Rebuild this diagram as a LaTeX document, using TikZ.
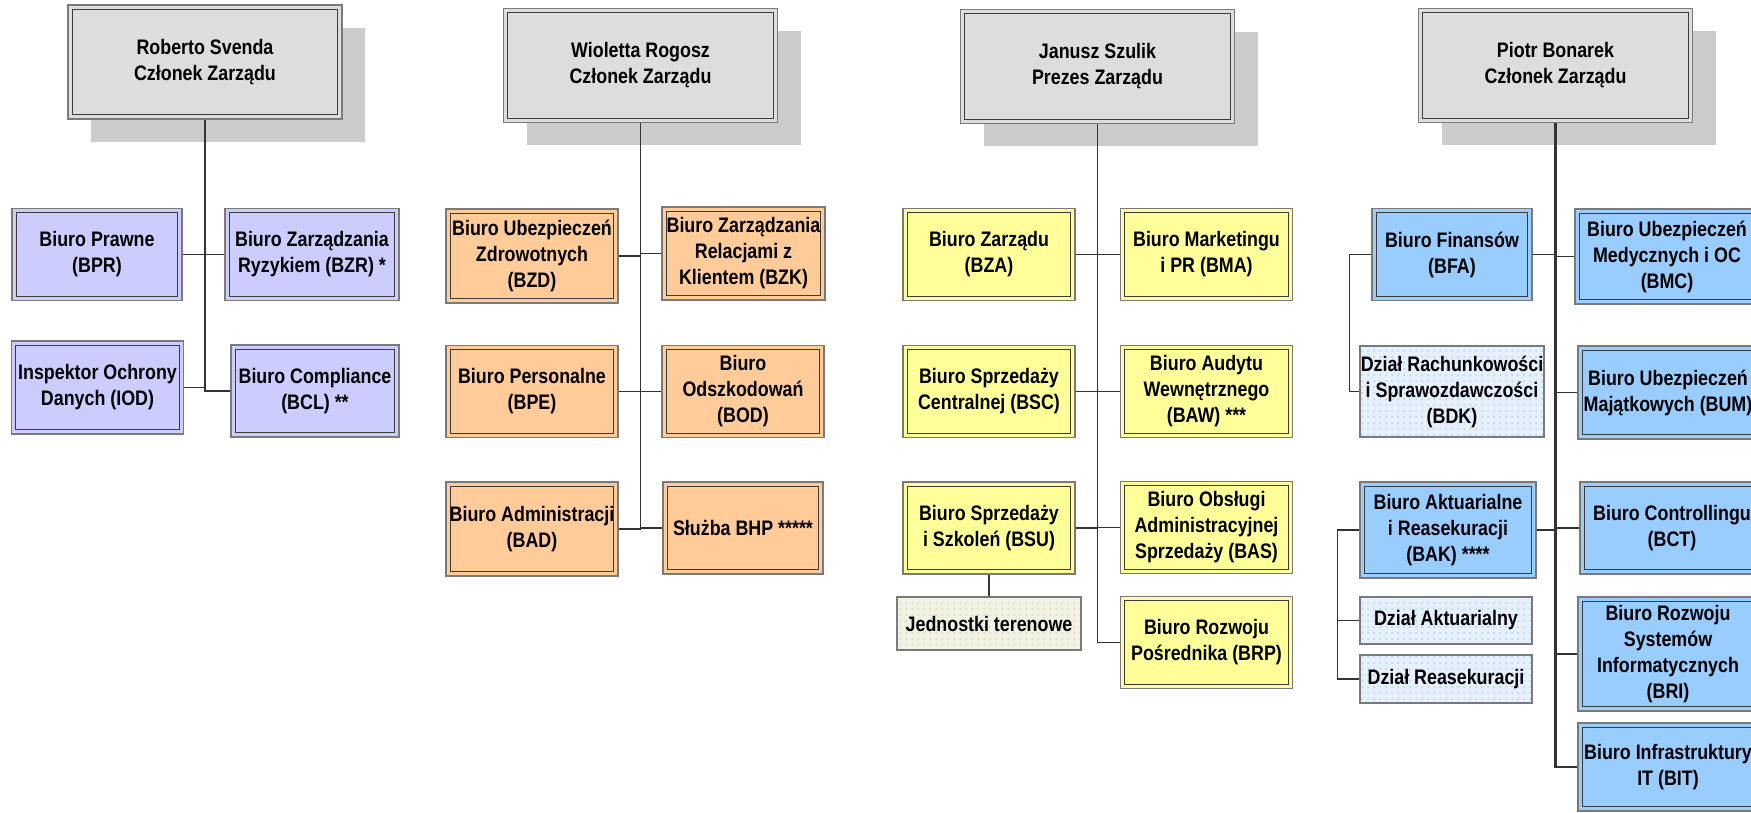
\documentclass[tikz,border=0pt]{standalone}
\usepackage{fontspec}
\setmainfont{Liberation Sans}[FakeStretch=0.85]
\usepackage{xcolor}
\usepackage{tikz}
\usetikzlibrary{shadows, patterns}
\definecolor{boardgray}{HTML}{DDDDDD}
\definecolor{shadegray}{HTML}{CCCCCC}
\definecolor{edgegray}{HTML}{7A7A7A}
\definecolor{inneredge}{HTML}{3C3C3C}
\definecolor{lila}{HTML}{CCCCFF}
\definecolor{peach}{HTML}{FFCC99}
\definecolor{lemon}{HTML}{FFFF99}
\definecolor{sky}{HTML}{99CCFF}
\definecolor{lemonbase}{HTML}{F2F2E4}
\definecolor{lemondots}{HTML}{D6D6BC}
\definecolor{skybase}{HTML}{E6F0FF}
\definecolor{skydots}{HTML}{B2D0F2}
\tikzstyle{unit} = [rectangle, draw=edgegray, line width=0.65pt, inner sep=0pt, align=center, font=\fontsize{10.5}{13}\selectfont\bfseries, minimum width=86pt, minimum height=46pt, path picture={\draw[inneredge, line width=0.5pt] ([xshift=2.2pt,yshift=-2.2pt]path picture bounding box.north west) rectangle ([xshift=-2.2pt,yshift=2.2pt]path picture bounding box.south east);}]
\tikzstyle{board} = [unit, fill=boardgray, minimum width=137pt, minimum height=57pt, drop shadow={shadow xshift=11.5pt, shadow yshift=-11.5pt, fill=shadegray, opacity=1}]
\tikzstyle{lilaunit} = [unit, fill=lila]
\tikzstyle{peachunit} = [unit, fill=peach]
\tikzstyle{lemonunit} = [unit, fill=lemon]
\tikzstyle{skyunit} = [unit, fill=sky]
\tikzstyle{subunit} = [rectangle, draw=edgegray, line width=0.65pt, inner sep=0pt, align=center, font=\fontsize{10.5}{13}\selectfont\bfseries, pattern=dots]
\tikzstyle{lemonsub} = [subunit, preaction={fill=lemonbase}, pattern color=lemondots]
\tikzstyle{skysub} = [subunit, preaction={fill=skybase}, pattern color=skydots]
\tikzstyle{wire} = [draw=black!80, line width=0.6pt]
\tikzstyle{trunk} = [draw=black!80, line width=1.1pt]

\begin{document}
\begin{tikzpicture}[x=0.5pt, y=-0.5pt]
		\useasboundingbox (0,0) rectangle (1751,813);
		
		% Nodes: Roberto Svenda
		\node (svenda) [board] at (205,62) {Roberto Svenda\\Członek Zarządu};
		\node (bpr) [lilaunit, minimum width=85pt] at (97,254.5) {Biuro Prawne\\(BPR)};
		\node (bzr) [lilaunit, minimum width=87pt] at (312,254.5) {Biuro Zarządzania\\Ryzykiem (BZR) *};
		\node (iod) [lilaunit, minimum height=46.5pt] at (97.5,387.5) {Inspektor Ochrony\\Danych (IOD)};
		\node (bcl) [lilaunit, minimum width=84pt] at (315,391) {Biuro Compliance\\(BCL) **};
		
		% Nodes: Wioletta Rogosz
		\node (rogosz) [board] at (640.5,65.5) {Wioletta Rogosz\\Członek Zarządu};
		\node (bzd) [peachunit, minimum height=47pt] at (532,256) {Biuro Ubezpieczeń\\Zdrowotnych\\(BZD)};
		\node (bzk) [peachunit, minimum width=81.5pt, minimum height=46.5pt] at (743.5,253.5) {Biuro Zarządzania\\Relacjami z\\Klientem (BZK)};
		\node (bpe) [peachunit] at (532,391.5) {Biuro Personalne\\(BPE)};
		\node (bod) [peachunit, minimum width=81pt] at (743,391.5) {Biuro\\Odszkodowań\\(BOD)};
		\node (bad) [peachunit, minimum height=47pt] at (532,529) {Biuro Administracji\\(BAD)};
		\node (bhp) [peachunit, minimum width=80pt] at (743,528) {Służba BHP *****};
		
		% Nodes: Janusz Szulik
		\node (szulik) [board] at (1097.5,66.5) {Janusz Szulik\\Prezes Zarządu};
		\node (bza) [lemonunit] at (989,254.5) {Biuro Zarządu\\(BZA)};
		\node (bma) [lemonunit] at (1206.5,254.5) {Biuro Marketingu\\i PR (BMA)};
		\node (bsc) [lemonunit] at (989,391.5) {Biuro Sprzedaży\\Centralnej (BSC)};
		\node (baw) [lemonunit] at (1206.5,391.5) {Biuro Audytu\\Wewnętrznego\\(BAW) ***};
		\node (bsu) [lemonunit] at (989,528) {Biuro Sprzedaży\\i Szkoleń (BSU)};
		\node (bas) [lemonunit] at (1206.5,527.5) {Biuro Obsługi\\Administracyjnej\\Sprzedaży (BAS)};
		\node (jt) [lemonsub, minimum width=92pt, minimum height=26.5pt] at (989,623.5) {Jednostki terenowe};
		\node (brp) [lemonunit] at (1206.5,642.5) {Biuro Rozwoju\\Pośrednika (BRP)};
		
		% Nodes: Piotr Bonarek
		\node (bonarek) [board] at (1555.5,65.5) {Piotr Bonarek\\Członek Zarządu};
		\node (bfa) [skyunit, minimum width=80pt] at (1452,254.5) {Biuro Finansów\\(BFA)};
		\node (bmc) [skyunit, minimum width=92pt, minimum height=47.5pt] at (1667,256.5) {Biuro Ubezpieczeń\\Medycznych i OC\\(BMC)};
		\node (bdk) [skysub, minimum width=92pt, minimum height=45.5pt] at (1452,391.5) {Dział Rachunkowości\\i Sprawozdawczości\\(BDK)};
		\node (bum) [skyunit, minimum width=90pt, minimum height=46.5pt] at (1668,392.5) {Biuro Ubezpieczeń\\Majątkowych (BUM)};
		\node (bak) [skyunit, minimum width=88pt, minimum height=48pt] at (1448,530) {Biuro Aktuarialne\\i Reasekuracji\\(BAK) ****};
		\node (bct) [skyunit, minimum width=92pt] at (1672,528) {Biuro Controllingu\\(BCT)};
		\node (dak) [skysub, minimum width=86pt, minimum height=23.5pt] at (1446,620.5) {Dział Aktuarialny};
		\node (dre) [skysub, minimum width=86pt, minimum height=24pt] at (1446,679) {Dział Reasekuracji};
		\node (bri) [skyunit, minimum width=90pt, minimum height=57pt] at (1668,654) {Biuro Rozwoju\\Systemów\\Informatycznych\\(BRI)};
		\node (bit) [skyunit, minimum width=90pt, minimum height=44pt] at (1668,767) {Biuro Infrastruktury\\IT (BIT)};
		
		% Lines
		\draw [wire] (svenda.south) -- (svenda.south |- bcl.west) -- (bcl.west);
		\draw [wire] (bpr.east) -- (bzr.west);
		\draw [wire] (iod.east) -- (svenda.south |- iod.east);
		
		\draw [wire] (rogosz.south) -- (rogosz.south |- bad.east);
		\foreach \u in {bzd, bpe, bad}
			\draw [wire] (\u.east) -- (rogosz.south |- \u.east);
		\foreach \u in {bzk, bod, bhp}
			\draw [wire] (rogosz.south |- \u.west) -- (\u.west);
		
		\draw [wire] (szulik.south) -- (szulik.south |- brp.west) -- (brp.west);
		\foreach \u in {bza, bsc, bsu}
			\draw [wire] (\u.east) -- (szulik.south |- \u.east);
		\foreach \u in {bma, baw, bas}
			\draw [wire] (szulik.south |- \u.west) -- (\u.west);
		\draw [wire] (bsu.south) -- (jt.north);
		
		\draw [trunk] (bonarek.south) -- (bonarek.south |- bit.west) -- (bit.west);
		\foreach \u in {bfa, bak}
			\draw [wire] (\u.east) -- (bonarek.south |- \u.east);
		\foreach \u in {bmc, bum, bct, bri}
			\draw [wire] (bonarek.south |- \u.west) -- (\u.west);
		\draw [wire] (bfa.west) -- ++(-22,0) |- (bdk.west);
		\draw [wire] (bak.west) -- ++(-22,0) coordinate (akt) |- (dre.west);
		\draw [wire] (akt |- dak.west) -- (dak.west);
		
	\end{tikzpicture}
\end{document}
